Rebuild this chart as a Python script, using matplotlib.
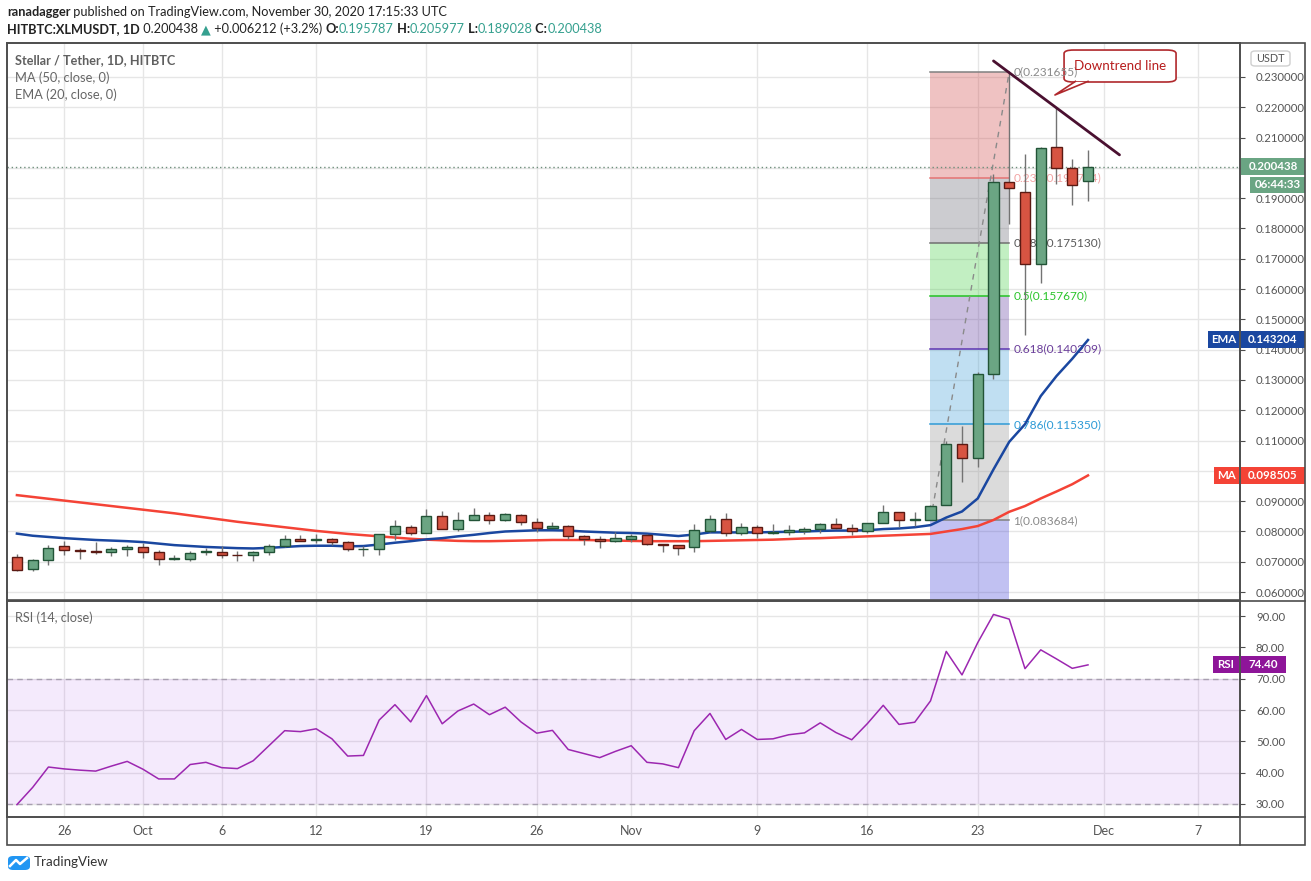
import numpy as np
import pandas as pd
import matplotlib
matplotlib.use('Agg')
import matplotlib.pyplot as plt
import matplotlib.dates as mdates
import matplotlib.patches as mpatches
import matplotlib.transforms as mtransforms
from matplotlib.lines import Line2D

plt.rcParams['font.family'] = ['Lato', 'DejaVu Sans']

# ---------------- data ----------------
dates = pd.date_range('2020-09-23', periods=69, freq='D')
opens = [0.07154, 0.06758, 0.07055, 0.07516, 0.07400, 0.07360, 0.07310, 0.07410, 0.07480, 0.07320,
         0.07090, 0.07090, 0.07320, 0.07320, 0.07230, 0.07220, 0.07320, 0.07520, 0.07750, 0.07710,
         0.07750, 0.07650, 0.07410, 0.07420, 0.07910, 0.08140, 0.07950, 0.08500, 0.08070, 0.08370,
         0.08540, 0.08370, 0.08540, 0.08310, 0.08110, 0.08180, 0.07850, 0.07750, 0.07680, 0.07750,
         0.07890, 0.07580, 0.07550, 0.07480, 0.08030, 0.08410, 0.07950, 0.08140, 0.07960, 0.07970,
         0.08030, 0.08080, 0.08240, 0.08110, 0.08010, 0.08270, 0.08640, 0.08370, 0.08380, 0.08860,
         0.10900, 0.10440, 0.13200, 0.19540, 0.19210, 0.16830, 0.20680, 0.19990, 0.195787]
highs = [0.07253, 0.07100, 0.07560, 0.07670, 0.07460, 0.07650, 0.07480, 0.07540, 0.07630, 0.07400,
         0.07230, 0.07350, 0.07450, 0.07520, 0.07340, 0.07360, 0.07600, 0.07870, 0.07890, 0.07910,
         0.07780, 0.07690, 0.07510, 0.07910, 0.08380, 0.08210, 0.08750, 0.08680, 0.08650, 0.08780,
         0.08650, 0.08620, 0.08590, 0.08450, 0.08320, 0.08220, 0.07880, 0.07860, 0.07980, 0.07920,
         0.07920, 0.07580, 0.07550, 0.08250, 0.08550, 0.08620, 0.08290, 0.08210, 0.08250, 0.08220,
         0.08140, 0.08270, 0.08450, 0.08250, 0.08270, 0.08880, 0.08640, 0.08640, 0.08870, 0.10990,
         0.11480, 0.13260, 0.19800, 0.231655, 0.20460, 0.20680, 0.21970, 0.20290, 0.205977]
lows = [0.06692, 0.06690, 0.06910, 0.07230, 0.07100, 0.07260, 0.07200, 0.07200, 0.07140, 0.06880,
        0.07050, 0.07040, 0.07210, 0.07140, 0.07040, 0.07010, 0.07240, 0.07480, 0.07670, 0.07620,
        0.07570, 0.07350, 0.07180, 0.07210, 0.07730, 0.07900, 0.07940, 0.08070, 0.08020, 0.08370,
        0.08260, 0.08330, 0.08210, 0.07980, 0.08110, 0.07740, 0.07540, 0.07440, 0.07650, 0.07650,
        0.07540, 0.07310, 0.07240, 0.07310, 0.07980, 0.07850, 0.07870, 0.07800, 0.07920, 0.07900,
        0.07920, 0.07960, 0.08070, 0.07870, 0.07960, 0.08270, 0.08140, 0.08180, 0.083684, 0.08860,
        0.09640, 0.10130, 0.13020, 0.18150, 0.14500, 0.16190, 0.19460, 0.18790, 0.189028]
closes = [0.06736, 0.07055, 0.07451, 0.07385, 0.07340, 0.07310, 0.07420, 0.07480, 0.07320, 0.07090,
          0.07110, 0.07290, 0.07340, 0.07220, 0.07210, 0.07320, 0.07520, 0.07750, 0.07700, 0.07750,
          0.07650, 0.07420, 0.07430, 0.07910, 0.08180, 0.07950, 0.08500, 0.08080, 0.08370, 0.08540,
          0.08370, 0.08570, 0.08320, 0.08120, 0.08180, 0.07850, 0.07750, 0.07680, 0.07780, 0.07860,
          0.07580, 0.07550, 0.07450, 0.08040, 0.08410, 0.07950, 0.08140, 0.07950, 0.07990, 0.08040,
          0.08090, 0.08240, 0.08110, 0.08010, 0.08270, 0.08640, 0.08370, 0.08420, 0.08850, 0.10900,
          0.10440, 0.13210, 0.19520, 0.19330, 0.16830, 0.20650, 0.20000, 0.19430, 0.200438]
ma50 = [0.0920, 0.0914, 0.0908, 0.0902, 0.0896, 0.0890, 0.0884, 0.0878, 0.0872, 0.0866,
        0.0860, 0.0853, 0.0846, 0.0839, 0.0832, 0.0826, 0.0820, 0.0814, 0.0808, 0.0802,
        0.0797, 0.0792, 0.0788, 0.0784, 0.0780, 0.0776, 0.0773, 0.0771, 0.0769, 0.0768,
        0.0768, 0.0769, 0.0770, 0.0771, 0.0772, 0.0772, 0.0772, 0.0771, 0.0770, 0.0769,
        0.0768, 0.0768, 0.0768, 0.0768, 0.0769, 0.0770, 0.0771, 0.0772, 0.0773, 0.0775,
        0.0777, 0.0778, 0.0780, 0.0782, 0.0784, 0.0786, 0.0788, 0.0790, 0.0792, 0.0800,
        0.0808, 0.0818, 0.0838, 0.0865, 0.0884, 0.0909, 0.0932, 0.0956, 0.098505]
ema20 = [0.0793, 0.0786, 0.0782, 0.0778, 0.0775, 0.0772, 0.0770, 0.0768, 0.0765, 0.0760,
         0.0755, 0.0752, 0.0749, 0.0747, 0.0745, 0.0744, 0.0746, 0.0749, 0.0752, 0.0753,
         0.0753, 0.0751, 0.0752, 0.0757, 0.0763, 0.0768, 0.0774, 0.0778, 0.0784, 0.0789,
         0.0795, 0.0800, 0.0802, 0.0804, 0.0804, 0.0803, 0.0800, 0.0798, 0.0796, 0.0795,
         0.0793, 0.0789, 0.0785, 0.0790, 0.0797, 0.0797, 0.0797, 0.0797, 0.0798, 0.0799,
         0.0800, 0.0802, 0.0803, 0.0803, 0.0804, 0.0808, 0.0810, 0.0814, 0.0821, 0.0846,
         0.0866, 0.0909, 0.1005, 0.1096, 0.1154, 0.1247, 0.1313, 0.1370, 0.143204]
rsi = [29.8, 35.3, 41.8, 41.2, 40.8, 40.5, 42.1, 43.6, 41.1, 38.0,
       38.0, 42.6, 43.3, 41.6, 41.3, 43.8, 48.6, 53.4, 53.1, 54.0,
       50.8, 45.3, 45.5, 56.8, 61.7, 56.2, 64.6, 55.6, 59.7, 61.9,
       58.5, 60.9, 56.2, 52.6, 53.5, 47.4, 46.1, 44.8, 46.8, 48.6,
       43.3, 42.8, 41.6, 53.4, 58.9, 50.6, 53.8, 50.6, 50.8, 52.1,
       52.7, 55.9, 52.8, 50.5, 55.7, 61.5, 55.4, 56.1, 62.9, 78.7,
       71.2, 81.5, 90.5, 89.0, 73.2, 79.2, 76.3, 73.3, 74.4]

tick_dates = ['2020-09-26', '2020-10-01', '2020-10-06', '2020-10-12', '2020-10-19', '2020-10-26',
              '2020-11-01', '2020-11-09', '2020-11-16', '2020-11-23', '2020-12-01', '2020-12-07']
tick_labels = ['26', 'Oct', '6', '12', '19', '26', 'Nov', '9', '16', '23', 'Dec', '7']
price_ticks = [0.06, 0.07, 0.08, 0.09, 0.10, 0.11, 0.12, 0.13, 0.14, 0.15, 0.16, 0.17, 0.18,
               0.19, 0.20, 0.21, 0.22, 0.23]
hidden_price_ticks = [0.10, 0.20]   # covered by the MA / last-price tags
rsi_ticks = [30, 40, 50, 60, 70, 80, 90]

fib_high = 0.231655
fib_low = 0.083684
fib_levels = [0, 0.236, 0.382, 0.5, 0.618, 0.786, 1]
fib_names = ['0', '0.236', '0.382', '0.5', '0.618', '0.786', '1']
fib_values = [0.231655, 0.196734, 0.175130, 0.157670, 0.140209, 0.115350, 0.083684]
fib_start_date = '2020-11-20'
fib_end_date = '2020-11-25'

downtrend_dates = ['2020-11-24', '2020-12-02']
downtrend_prices = [0.2353, 0.2043]

last_price = 0.200438
ema_last = 0.143204
ma_last = 0.098505
rsi_last = 74.40

# ---------------- figure ----------------
W, H = 1311, 881
fig = plt.figure(figsize=(W / 100, H / 100), dpi=100)
fig.patch.set_facecolor('white')


def fx(px):
    return px / W


def fy(py):
    return 1 - py / H


ax = fig.add_axes([fx(7), fy(600), 1233 / W, 557 / H])
rax = fig.add_axes([fx(7), fy(817), 1233 / W, 216 / H], sharex=ax)

xd = mdates.date2num(dates)
o = np.array(opens); h = np.array(highs); l = np.array(lows); c = np.array(closes)

grid_c = '#e6e6e6'
txt_c = '#555555'
spine_c = '#4d4d4d'

x0 = xd[0]
ax.set_xlim(x0 - 0.63, x0 + 77.65)
ax.set_ylim(0.05739, 0.24122)
rax.set_ylim(25.85, 94.79)

tick_pos = mdates.date2num(pd.to_datetime(tick_dates))
for a in (ax, rax):
    a.set_facecolor('white')
    for s in a.spines.values():
        s.set_color(spine_c)
        s.set_linewidth(1.2)
    a.set_axisbelow(True)
    a.set_xticks(tick_pos)
    a.grid(True, color=grid_c, lw=1)

ax.tick_params(axis='x', labelbottom=False, length=0)
rax.set_xticklabels(tick_labels)
rax.tick_params(axis='x', length=0, pad=6, labelsize=9, labelcolor=txt_c)

ax.yaxis.tick_right()
ax.set_yticks(price_ticks)
ax.set_yticklabels(['' if any(abs(v - hv) < 1e-9 for hv in hidden_price_ticks) else '%.6f' % v
                    for v in price_ticks])
ax.tick_params(axis='y', length=3.5, color=spine_c, pad=8, labelsize=8.2, labelcolor=txt_c)

rax.yaxis.tick_right()
rax.set_yticks(rsi_ticks)
rax.set_yticklabels(['%.2f' % v for v in rsi_ticks])
rax.tick_params(axis='y', length=3.5, color=spine_c, pad=8, labelsize=8.2, labelcolor=txt_c)

# ---------------- Fibonacci retracement ----------------
fs = mdates.date2num(pd.Timestamp(fib_start_date))
fe = mdates.date2num(pd.Timestamp(fib_end_date))
rng = fib_high - fib_low
fib_prices = [fib_high - lv * rng for lv in fib_levels]
zone_cols = [(205/255, 55/255, 55/255), (88/255, 88/255, 102/255), (55/255, 205/255, 55/255),
             (82/255, 42/255, 152/255), (48/255, 152/255, 212/255), (138/255, 138/255, 138/255)]
for i in range(6):
    ax.add_patch(mpatches.Rectangle((fs, fib_prices[i + 1]), fe - fs, fib_prices[i] - fib_prices[i + 1],
                                    facecolor=zone_cols[i], alpha=0.3, lw=0, zorder=1))
below = fib_high - 1.618 * rng
ax.add_patch(mpatches.Rectangle((fs, below), fe - fs, fib_prices[6] - below,
                                facecolor=(52/255, 52/255, 212/255), alpha=0.3, lw=0, zorder=1))
line_cols = ['#808080', '#e57373', '#707070', '#22c322', '#5e35b1', '#2f9ad6', '#808080']
lab_cols = ['#8a8a8a', '#f2a4a4', '#5a5a5a', '#2bc42b', '#6a3d9a', '#2c9ad6', '#8a8a8a']
for i, (p, lc, tc, nm, fv) in enumerate(zip(fib_prices, line_cols, lab_cols, fib_names, fib_values)):
    ax.plot([fs, fe], [p, p], color=lc, lw=1.1, zorder=1.5)
    ax.text(fe + 0.25, p, '%s(%.6f)' % (nm, fv), color=tc, fontsize=8.6, va='center', ha='left',
            zorder=6.7 if i == 0 else 1.6)
ax.plot([fs, fe], [fib_low, fib_high], color='#8a8a8a', lw=1, ls=(0, (4, 4)), zorder=1.7)

# ---------------- MA / EMA ----------------
ax.plot(xd, ma50, color='#f44336', lw=1.8, zorder=2.6)
ax.plot(xd, ema20, color='#1a47a0', lw=1.8, zorder=2.7)

# ---------------- candles ----------------
up = c >= o
body_cols = np.where(up, '#6ba583', '#d75442')
edge_cols = np.where(up, '#225437', '#5b1a13')
ax.vlines(xd, l, h, color='#737373', lw=1, zorder=3)
ax.bar(xd, np.abs(c - o), width=0.64, bottom=np.minimum(o, c), color=body_cols,
       edgecolor=edge_cols, linewidth=1, zorder=4)

# last price dotted line
ax.axhline(last_price, color='#6f8f7c', lw=1, ls=(0, (1, 2)), zorder=2)

# ---------------- downtrend line + callout ----------------
dtx = mdates.date2num(pd.to_datetime(downtrend_dates))
ax.plot(dtx, downtrend_prices, color='#4a1030', lw=2, zorder=7, solid_capstyle='round')

bx0, bx1 = x0 + 66.48, x0 + 73.59
by0, by1 = 0.22835, 0.2389
box = mpatches.FancyBboxPatch((bx0, by0), bx1 - bx0, by1 - by0,
                              boxstyle='round,pad=0,rounding_size=0.6', mutation_aspect=0.0019,
                              facecolor='white', edgecolor='#b0282c', lw=1.2, zorder=6)
ax.add_patch(box)
tip = (x0 + 65.9, 0.22406)
ta = (x0 + 67.2, by0)
tb = (x0 + 68.0, by0)
ax.add_patch(mpatches.Polygon([ta, tip, tb], closed=True, facecolor='white', edgecolor='none', zorder=6.5))
ax.plot([ta[0], tip[0], tb[0]], [ta[1] + 0.0002, tip[1], tb[1] + 0.0002], color='#b0282c', lw=1.2, zorder=6.6)
ax.text((bx0 + bx1) / 2, (by0 + by1) / 2, 'Downtrend line', color='#b71c1c', fontsize=9.6,
        ha='center', va='center', zorder=7)

# ---------------- RSI ----------------
rax.axhspan(30, 70, facecolor=(0.6, 0.2, 0.9), alpha=0.1, lw=0, zorder=1)
rax.axhline(70, color='#a89fb0', lw=1, ls=(0, (4, 3)), zorder=1.5)
rax.axhline(30, color='#a89fb0', lw=1, ls=(0, (4, 3)), zorder=1.5)
rax.plot(xd, rsi, color='#9c27b0', lw=1.1, zorder=3)


# ---------------- price tags ----------------
def tag(axis, yval, text, color, px0, px1, hpx, ax_hpx, zorder=10, tcolor='white'):
    trans = mtransforms.blended_transform_factory(axis.transAxes, axis.transData)
    y0, y1 = axis.get_ylim()
    dy = hpx * (y1 - y0) / ax_hpx
    a0 = (px0 - 7) / 1233
    a1 = (px1 - 7) / 1233
    axis.add_patch(mpatches.Rectangle((a0, yval - dy / 2), a1 - a0, dy, transform=trans,
                                      facecolor=color, edgecolor='none', clip_on=False, zorder=zorder))
    axis.text((a0 + a1) / 2, yval, text, transform=trans, color=tcolor, fontsize=8.3,
              fontweight='bold', ha='center', va='center', clip_on=False, zorder=zorder + 1)


tag(ax, last_price, '%.6f' % last_price, '#6aa583', 1241, 1305, 17, 557)
tag(ax, last_price - 18 * (0.24122 - 0.05739) / 557, '06:44:33', '#6aa583', 1250, 1305, 16, 557)
tag(ax, ema_last, 'EMA', '#1a47a0', 1208, 1239, 17, 557)
tag(ax, ema_last, '%.6f' % ema_last, '#1a47a0', 1241, 1305, 17, 557)
tag(ax, ma_last, 'MA', '#f44336', 1214, 1239, 17, 557)
tag(ax, ma_last, '%.6f' % ma_last, '#f44336', 1241, 1305, 17, 557)
tag(rax, rsi_last, 'RSI', '#8e1599', 1213, 1239, 17, 216)
tag(rax, rsi_last, '%.2f' % rsi_last, '#8e1599', 1241, 1286, 17, 216)

# USDT box
fig.patches.append(mpatches.FancyBboxPatch((fx(1251), fy(66)), 39 / W, 15 / H,
                                           boxstyle='round,pad=0,rounding_size=0.003',
                                           transform=fig.transFigure, facecolor='white',
                                           edgecolor='#cfcfcf', lw=1, zorder=20))
fig.text(fx(1270.5), fy(58.5), 'USDT', color=txt_c, fontsize=7.8, ha='center', va='center', zorder=21)

# ---------------- frame lines ----------------
fig.patches.append(mpatches.Rectangle((fx(7), fy(845)), 1298 / W, 802 / H, transform=fig.transFigure,
                                      fill=False, edgecolor=spine_c, lw=1.2, zorder=30))
for (xa, ya, xb, yb) in [(7, 600.5, 1305, 600.5), (7, 817, 1305, 817), (1240, 817, 1240, 845),
                         (1240, 43, 1240, 817)]:
    fig.lines.append(Line2D([fx(xa), fx(xb)], [fy(ya), fy(yb)], transform=fig.transFigure,
                            color=spine_c, lw=1.2, zorder=30))

# ---------------- legend texts ----------------
ax.text(8 / 1233, 1 - 17 / 557, 'Stellar / Tether, 1D, HITBTC', transform=ax.transAxes,
        color='#606060', fontsize=9.1, fontweight='bold', va='center', ha='left', zorder=8)
ax.text(8 / 1233, 1 - 35 / 557, 'MA (50, close, 0)', transform=ax.transAxes,
        color='#666666', fontsize=9.3, va='center', ha='left', zorder=8)
ax.text(8 / 1233, 1 - 52 / 557, 'EMA (20, close, 0)', transform=ax.transAxes,
        color='#666666', fontsize=9.3, va='center', ha='left', zorder=8)
rax.text(8 / 1233, 1 - 17 / 216, 'RSI (14, close)', transform=rax.transAxes,
         color='#666666', fontsize=9.2, va='center', ha='left', zorder=8)

# ---------------- header ----------------
renderer = fig.canvas.get_renderer()


def seq_text(xp, yp, parts, size):
    xcur = xp
    for s, col, wt in parts:
        t = fig.text(fx(xcur), fy(yp), s, color=col, fontweight=wt, fontsize=size, va='center', ha='left')
        bb = t.get_window_extent(renderer)
        xcur += bb.width


teal = '#35a08f'
dark = '#222222'
seq_text(7, 12, [('ranadagger', dark, 'bold'),
                 (' published on TradingView.com, November 30, 2020 17:15:33 UTC', dark, 'normal')], 9.2)
seq_text(7, 29, [('HITBTC:XLMUSDT, 1D', dark, 'bold'), (' 0.200438 ', dark, 'normal'),
                 ('\u25b2', teal, 'normal'), (' +0.006212 (+3.2%) ', dark, 'normal'),
                 ('O:', dark, 'bold'), ('0.195787', teal, 'normal'),
                 (' H:', dark, 'bold'), ('0.205977', teal, 'normal'),
                 (' L:', dark, 'bold'), ('0.189028', teal, 'normal'),
                 (' C:', dark, 'bold'), ('0.200438', teal, 'normal')], 9.2)

# ---------------- TradingView logo ----------------
fig.patches.append(mpatches.FancyBboxPatch((fx(8), fy(870)), 22 / W, 14 / H,
                                           boxstyle='round,pad=0,rounding_size=0.004',
                                           transform=fig.transFigure, facecolor='#2196f3',
                                           edgecolor='none', zorder=20))
fig.lines.append(Line2D([fx(10), fx(16), fx(20), fx(27)], [fy(866), fy(860), fy(864), fy(858)],
                        transform=fig.transFigure, color='white', lw=1.8, zorder=21))
fig.text(fx(34), fy(862), 'TradingView', color='#333333', fontsize=9.6, va='center', ha='left')

fig.savefig('out.png', dpi=100, facecolor='white')
